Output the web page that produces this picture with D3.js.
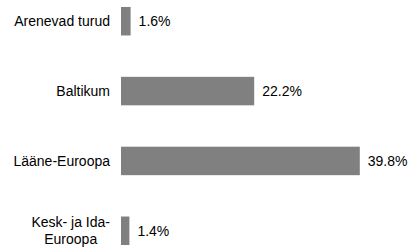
<!DOCTYPE html>
<html>
<head>
<meta charset="utf-8">
<script src="https://cdn.jsdelivr.net/npm/d3@7"></script>
<style>
  html, body { margin: 0; padding: 0; background: #fff; }
  svg { display: block; }
  text { font-family: "Liberation Sans", Arial, sans-serif; font-size: 14px; fill: #000; }
</style>
</head>
<body>
<script>
(function(){
    // Chart data
    var categories = ["Arenevad turud", "Baltikum", "Lääne-Euroopa", "Kesk- ja Ida-Euroopa"];
    var values = [1.6, 22.2, 39.8, 1.4];
    var valueLabels = ["1.6%", "22.2%", "39.8%", "1.4%"];

    var width = 419, height = 247;
    var axisX = 121;

    var svg = d3.select("body")
        .append("svg")
        .attr("width", width)
        .attr("height", height);

    // x: percent -> pixels, y: categories in bands
    var xScale = d3.scaleLinear()
        .domain([0, 40])
        .range([axisX, axisX + 240]);

    var yScale = d3.scaleBand()
        .domain(categories)
        .range([0, 252])
        .paddingInner(0.592)
        .paddingOuter(0.1);

    var rows = categories.map(function(c, i){
        return { name: c, value: values[i], label: valueLabels[i] };
    });

    // bars
    svg.selectAll(".bar")
        .data(rows)
        .enter()
        .append("rect")
        .attr("class", "bar")
        .attr("x", xScale(0))
        .attr("y", d => yScale(d.name))
        .attr("width", d => xScale(d.value) - xScale(0))
        .attr("height", yScale.bandwidth())
        .attr("fill", "#808080");

    // value labels at bar end
    svg.selectAll(".valLabel")
        .data(rows)
        .enter()
        .append("text")
        .attr("class", "valLabel")
        .attr("x", d => xScale(d.value) + 8)
        .attr("y", d => yScale(d.name) + yScale.bandwidth() / 2)
        .attr("dy", "0.35em")
        .text(d => d.label);

    // category labels, wrapped when too wide
    var maxLabelWidth = 105,
        lineHeight = 16.5,
        labelRight = 110;

    var measure = svg.append("text").attr("x", -999).attr("y", -999);
    function textWidth(s){
        measure.text(s);
        return measure.node().getComputedTextLength();
    }

    function wrapLabel(s){
        var tokens = s.match(/[^\s-]+-?|\s+/g);
        var lines = [], cur = "";
        tokens.forEach(function(t){
            var test = cur + t;
            if (cur.trim() !== "" && textWidth(test.trim()) > maxLabelWidth){
                lines.push(cur.trim());
                cur = t.trim();
            } else {
                cur = test;
            }
        });
        if (cur.trim() !== "") lines.push(cur.trim());
        return lines;
    }

    rows.forEach(function(d){
        var lines = wrapLabel(d.name);
        var cy = yScale(d.name) + yScale.bandwidth() / 2;
        if (lines.length === 1){
            svg.append("text")
                .attr("x", labelRight)
                .attr("y", cy)
                .attr("dy", "0.35em")
                .attr("text-anchor", "end")
                .text(lines[0]);
        } else {
            var widest = d3.max(lines, textWidth);
            var mid = labelRight - widest / 2;
            var t = svg.append("text").attr("text-anchor", "middle");
            lines.forEach(function(line, k){
                t.append("tspan")
                    .attr("x", mid)
                    .attr("y", cy + (k - (lines.length - 1) / 2) * lineHeight)
                    .attr("dy", "0.35em")
                    .text(line);
            });
        }
    });

    measure.remove();
})();
</script>
</body>
</html>
